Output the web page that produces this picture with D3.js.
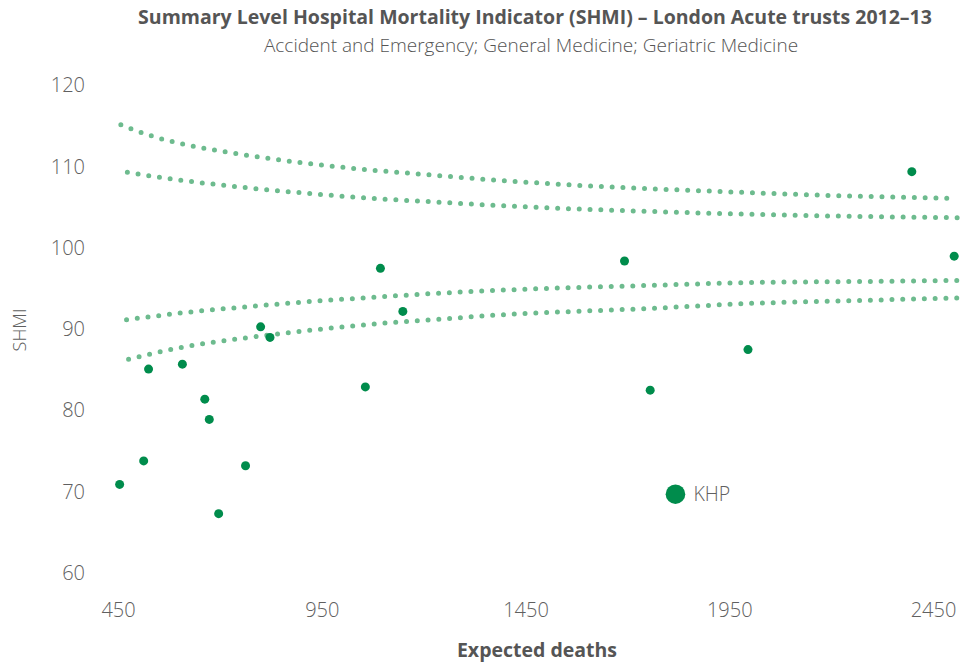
<!DOCTYPE html>
<html>
<head>
<meta charset="utf-8">
<script src="https://cdn.jsdelivr.net/npm/d3@7"></script>
<style>
  body { margin: 0; background: #fff; }
  svg { display: block; }
  text { font-family: "Open Sans", "Noto Sans", sans-serif; }
</style>
</head>
<body>
<svg id="chart" width="966" height="665"></svg>
<script>
// ---- Data ----
const titleText = "Summary Level Hospital Mortality Indicator (SHMI) \u2013 London Acute trusts 2012\u201313";
const subtitleText = "Accident and Emergency; General Medicine; Geriatric Medicine";
const xTicks = [450, 950, 1450, 1950, 2450];
const yTicks = [60, 70, 80, 90, 100, 110, 120];

// Trusts: expected deaths and SHMI
const trustExpected = [454, 513, 525, 608, 663, 674, 697, 763, 800, 823, 1057, 1094, 1149, 1693, 1756, 1996, 2398, 2502];
const trustSHMI     = [70.9, 73.8, 85.1, 85.7, 81.4, 78.9, 67.3, 73.2, 90.3, 89.0, 82.9, 97.5, 92.2, 98.4, 82.5, 87.5, 109.4, 99.0];

// Highlighted trust
const khpLabel = "KHP";
const khpExpected = 1818;
const khpSHMI = 69.7;

// Control limits
const upperOuterX = [457, 533, 610, 743, 902, 1063, 1169, 1410, 1678, 1919, 2188, 2510];
const upperOuterY = [115.17, 113.78, 112.79, 111.60, 110.49, 109.63, 109.19, 108.24, 107.46, 106.97, 106.48, 106.11];
const upperInnerX = [473, 606, 766, 926, 1086, 1189, 1408, 1676, 1918, 2213, 2530];
const upperInnerY = [109.31, 108.33, 107.42, 106.68, 106.06, 105.78, 105.16, 104.63, 104.26, 103.93, 103.72];
const lowerInnerX = [471, 605, 766, 926, 1086, 1189, 1382, 1757, 2023, 2213, 2530];
const lowerInnerY = [91.17, 92.0, 92.77, 93.43, 93.96, 94.30, 94.79, 95.40, 95.77, 95.85, 96.02];
const lowerOuterX = [476, 529, 606, 766, 926, 1086, 1189, 1382, 1757, 2023, 2213, 2530];
const lowerOuterY = [86.30, 86.95, 87.77, 88.95, 89.90, 90.68, 91.05, 91.75, 92.57, 93.22, 93.47, 93.88];

// ---- Drawing ----
const svg = d3.select("#chart");
const x = d3.scaleLinear().domain([450, 2530]).range([118, 965.6]);
const y = d3.scaleLinear().domain([60, 120]).range([573, 85.5]);

const pointColor = "#008c4c";
const limitColor = "#6dbb8e";
const textColor = "#606060";

// Title
svg.append("text").attr("x", 535).attr("y", 24).attr("text-anchor", "middle")
  .attr("font-size", 19.5).attr("font-weight", 700).attr("fill", "#555")
  .text(titleText);
svg.append("text").attr("x", 531).attr("y", 52).attr("text-anchor", "middle")
  .attr("font-size", 19).attr("font-weight", 300).attr("fill", "#555")
  .text(subtitleText);

// Y axis (labels only)
const yAxis = d3.axisLeft(y).tickValues(yTicks).tickSize(0).tickPadding(0).tickFormat(d3.format("d"));
const gy = svg.append("g").attr("transform", "translate(85,0)").call(yAxis);
gy.select(".domain").remove();
gy.selectAll("text").attr("font-size", 20).attr("font-weight", 300).attr("fill", textColor)
  .attr("font-family", "'Open Sans', 'Noto Sans', sans-serif");

// X axis (labels only)
const xAxis = d3.axisBottom(x).tickValues(xTicks).tickSize(0).tickPadding(0).tickFormat(d3.format("d"));
const gx = svg.append("g").attr("transform", "translate(0,603)").call(xAxis);
gx.select(".domain").remove();
gx.selectAll("text").attr("font-size", 20).attr("font-weight", 300).attr("fill", textColor)
  .attr("font-family", "'Open Sans', 'Noto Sans', sans-serif");

// Axis titles
svg.append("text").attr("x", 537).attr("y", 657).attr("text-anchor", "middle")
  .attr("font-size", 19.5).attr("font-weight", 700).attr("fill", "#555")
  .text("Expected deaths");
svg.append("text").attr("transform", "translate(26,330) rotate(-90)")
  .attr("text-anchor", "middle").attr("font-size", 18).attr("font-weight", 300).attr("fill", textColor)
  .text("SHMI");

// Control limits
const line = d3.line().x(d => x(d[0])).y(d => y(d[1])).curve(d3.curveMonotoneX);
const limits = [
  [upperOuterX, upperOuterY],
  [upperInnerX, upperInnerY],
  [lowerInnerX, lowerInnerY],
  [lowerOuterX, lowerOuterY]
];
limits.forEach(([xs, ys]) => {
  svg.append("path")
    .datum(xs.map((v, i) => [v, ys[i]]))
    .attr("d", line)
    .attr("fill", "none")
    .attr("stroke", limitColor)
    .attr("stroke-width", 5)
    .attr("stroke-linecap", "round")
    .attr("stroke-dasharray", "0 10.8");
});

// Trust points
svg.append("g").selectAll("circle")
  .data(trustExpected.map((v, i) => [v, trustSHMI[i]]))
  .join("circle")
  .attr("cx", d => x(d[0])).attr("cy", d => y(d[1]))
  .attr("r", 4.5).attr("fill", pointColor);

// KHP
svg.append("circle").attr("cx", x(khpExpected)).attr("cy", y(khpSHMI))
  .attr("r", 9.8).attr("fill", pointColor);
svg.append("text").attr("x", x(khpExpected) + 18).attr("y", y(khpSHMI))
  .attr("dy", "0.35em").attr("font-size", 19.5).attr("font-weight", 300).attr("fill", textColor)
  .text(khpLabel);
</script>
</body>
</html>
